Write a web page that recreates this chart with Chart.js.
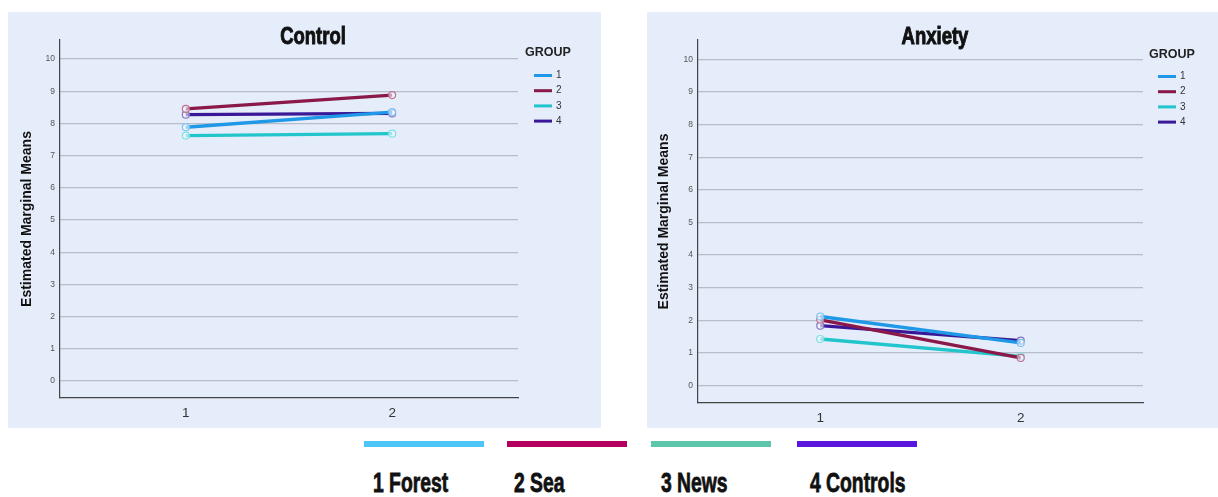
<!DOCTYPE html>
<html>
<head>
<meta charset="utf-8">
<script src="https://cdn.jsdelivr.net/npm/chart.js@4/dist/chart.umd.min.js"></script>
<style>
  html, body { margin: 0; padding: 0; background: #ffffff; width: 1218px; height: 497px; overflow: hidden; }
  .panel { position: absolute; background: #e5edfa; }
  .panel canvas { display: block; }
  .bar { position: absolute; height: 6px; top: 441px; width: 120px; }
  .lab { position: absolute; top: 467px; font-family: "Liberation Sans", Arial, sans-serif;
         font-weight: bold; font-size: 28px; line-height: 32px; color: #111; -webkit-text-stroke: 0.8px #111;
         transform-origin: left center; transform: scaleX(0.69); white-space: nowrap; }
</style>
</head>
<body>
<div class="panel" id="p1" style="left:8px; top:12px; width:593px; height:416px;"><canvas id="c1" width="593" height="416"></canvas></div>
<div class="panel" id="p2" style="left:647px; top:12px; width:571px; height:416px;"><canvas id="c2" width="571" height="416"></canvas></div>

<div id="bottomLegend"></div>

<script>
// ---- data ----
const timePoints = [1, 2];
const groupLabels = ['1', '2', '3', '4'];
const yTicks = [0, 1, 2, 3, 4, 5, 6, 7, 8, 9, 10];
const xTicks = [1, 2];

const controlG1 = [7.88, 8.35];
const controlG2 = [8.45, 8.88];
const controlG3 = [7.62, 7.68];
const controlG4 = [8.27, 8.31];

const anxietyG1 = [2.12, 1.31];
const anxietyG2 = [2.02, 0.85];
const anxietyG3 = [1.43, 0.90];
const anxietyG4 = [1.84, 1.38];

const bottomNames = ['1 Forest', '2 Sea', '3 News', '4 Controls'];

// ---- styling ----
const lineColors = ['#1f98e8', '#8a1848', '#22c5cc', '#3a1797'];
const pointBorders = ['#7cc3f0', '#c0708f', '#80dfe2', '#8a74c6'];
const bottomColors = ['#4dc5f7', '#b3005f', '#5cc6ab', '#5a16df'];
const bottomBarX = [364, 507, 651, 797];
const bottomLabX = [373, 514, 661, 810];

function makeDatasets(series) {
  return series.map((vals, i) => ({
    label: groupLabels[i],
    data: vals.map((v, j) => ({ x: timePoints[j], y: v })),
    borderColor: lineColors[i],
    backgroundColor: lineColors[i],
    borderWidth: 3.3,
    pointRadius: 3.5,
    pointBorderWidth: 1.2,
    pointBorderColor: pointBorders[i],
    pointBackgroundColor: 'rgba(240,246,255,0.6)',
    tension: 0
  }));
}

const overlayPlugin = {
  id: 'overlay',
  afterDraw(chart, args, opts) {
    const ctx = chart.ctx;
    ctx.save();
    // title (condensed look)
    ctx.fillStyle = '#111';
    ctx.strokeStyle = '#111';
    ctx.lineWidth = 1;
    ctx.font = 'bold 24px "Liberation Sans", Arial, sans-serif';
    ctx.textAlign = 'center';
    ctx.textBaseline = 'alphabetic';
    ctx.save();
    ctx.translate(opts.titleX, 32);
    ctx.scale(0.77, 1);
    ctx.fillText(opts.title, 0, 0);
    ctx.strokeText(opts.title, 0, 0);
    ctx.restore();
    // legend
    ctx.font = 'bold 12.5px "Liberation Sans", Arial, sans-serif';
    ctx.textAlign = 'left';
    ctx.textBaseline = 'middle';
    ctx.fillStyle = '#222';
    ctx.fillText('GROUP', opts.legX, opts.legTitleY);
    ctx.font = '10px "Liberation Sans", Arial, sans-serif';
    chart.data.datasets.forEach((ds, i) => {
      const y = opts.legY0 + i * 15.2;
      ctx.strokeStyle = ds.borderColor;
      ctx.lineWidth = 3;
      ctx.beginPath();
      ctx.moveTo(opts.swX, y);
      ctx.lineTo(opts.swX + 18, y);
      ctx.stroke();
      ctx.fillStyle = '#333';
      ctx.fillText(ds.label, opts.swX + 22, y);
    });
    ctx.restore();
  }
};

function makeChart(id, series, cfg) {
  return new Chart(document.getElementById(id), {
    type: 'line',
    data: { datasets: makeDatasets(series) },
    plugins: [overlayPlugin],
    options: {
      responsive: false,
      animation: false,
      layout: { padding: { left: 0, top: 28, right: cfg.padRight, bottom: 0 } },
      plugins: {
        legend: { display: false },
        tooltip: { enabled: false },
        overlay: cfg.overlay
      },
      scales: {
        x: {
          type: 'linear',
          min: 0.39, max: 2.61,
          afterBuildTicks: s => { s.ticks = xTicks.map(v => ({ value: v })); },
          afterFit: s => { s.height = cfg.xHeight; },
          grid: { display: false, drawTicks: false },
          border: { display: true, color: '#444', width: 1.2 },
          ticks: { color: '#333', padding: 7, font: { size: 13.5, family: '"Liberation Sans", Arial, sans-serif' } }
        },
        y: {
          type: 'linear',
          min: -0.53, max: 10.59,
          afterBuildTicks: s => { s.ticks = yTicks.map(v => ({ value: v })); },
          afterFit: s => { s.width = cfg.yWidth; },
          grid: { color: '#b9bdc8', lineWidth: 1.3, drawTicks: false },
          border: { display: true, color: '#444', width: 1.2 },
          ticks: { color: '#555', padding: 5, font: { size: 8.5, family: '"Liberation Sans", Arial, sans-serif' } },
          title: {
            display: true,
            text: 'Estimated Marginal Means',
            color: '#111',
            font: { size: 14, weight: 'bold', family: '"Liberation Sans", Arial, sans-serif' },
            padding: { top: cfg.yTitlePad, bottom: 0 }
          }
        }
      }
    }
  });
}

makeChart('c1', [controlG1, controlG2, controlG3, controlG4], {
  padRight: 83, xHeight: 30, yWidth: 52, yTitlePad: 11,
  overlay: { title: 'Control', titleX: 305, legX: 517, legTitleY: 41, swX: 526, legY0: 63.5 }
});
makeChart('c2', [anxietyG1, anxietyG2, anxietyG3, anxietyG4], {
  padRight: 75, xHeight: 25, yWidth: 51, yTitlePad: 9,
  overlay: { title: 'Anxiety', titleX: 288, legX: 502, legTitleY: 42.5, swX: 511, legY0: 64.5 }
});

// bottom legend
const bl = document.getElementById('bottomLegend');
bottomNames.forEach((name, i) => {
  const b = document.createElement('div');
  b.className = 'bar';
  b.style.left = bottomBarX[i] + 'px';
  b.style.background = bottomColors[i];
  bl.appendChild(b);
  const t = document.createElement('div');
  t.className = 'lab';
  t.style.left = bottomLabX[i] + 'px';
  t.textContent = name;
  bl.appendChild(t);
});
</script>
</body>
</html>
